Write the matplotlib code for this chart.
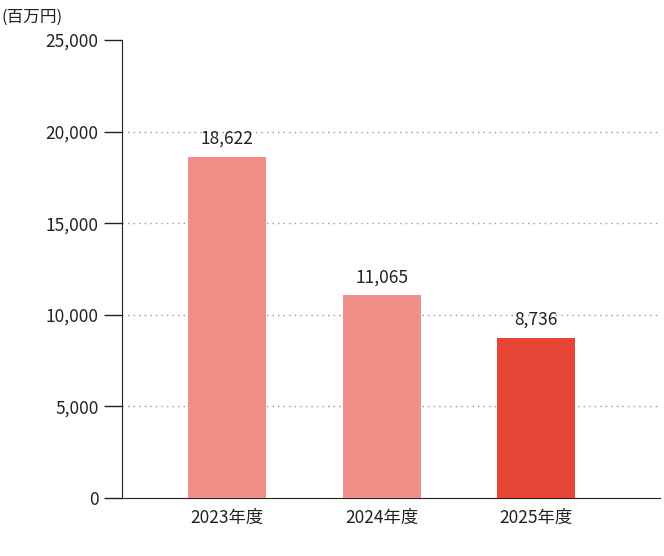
import matplotlib.pyplot as plt

plt.rcParams['font.family'] = ['Noto Sans CJK JP', 'DejaVu Sans']

years = ["2023年度", "2024年度", "2025年度"]
values = [18622, 11065, 8736]
colors = ["#f08f87", "#f08f87", "#e64536"]

fig = plt.figure(figsize=(6.64, 5.56), dpi=100)
ax = fig.add_axes([0.1837, 0.1043, 0.8103, 0.8237])

x = range(len(years))
ax.bar(x, values, width=0.505, color=colors, zorder=3)
for i, v in enumerate(values):
    ax.text(i, v + 500, f"{v:,}", ha="center", va="bottom", fontsize=12.5, color="#222222")

ax.set_xlim(-0.68, 2.80)
ax.set_ylim(0, 25000)
ax.set_yticks(range(0, 25001, 5000))
ax.set_yticklabels([f"{t:,}" for t in range(0, 25001, 5000)], fontsize=12.5, color="#222222")
ax.set_xticks(list(x))
ax.set_xticklabels(years, fontsize=12.5, color="#222222")
ax.tick_params(axis="y", length=13, width=1, color="#222222", pad=4)
ax.tick_params(axis="x", length=0, pad=8)
for t in range(5000, 25000, 5000):
    ax.axhline(t, color="#999999", linestyle=(0, (1, 3)), linewidth=1, zorder=1)

for s in ["top", "right"]:
    ax.spines[s].set_visible(False)
ax.spines["left"].set_color("#222222")
ax.spines["bottom"].set_color("#222222")

fig.text(0.003, 0.985, "(百万円)", ha="left", va="top", fontsize=12, color="#222222")

fig.savefig("out.png", dpi=100)
